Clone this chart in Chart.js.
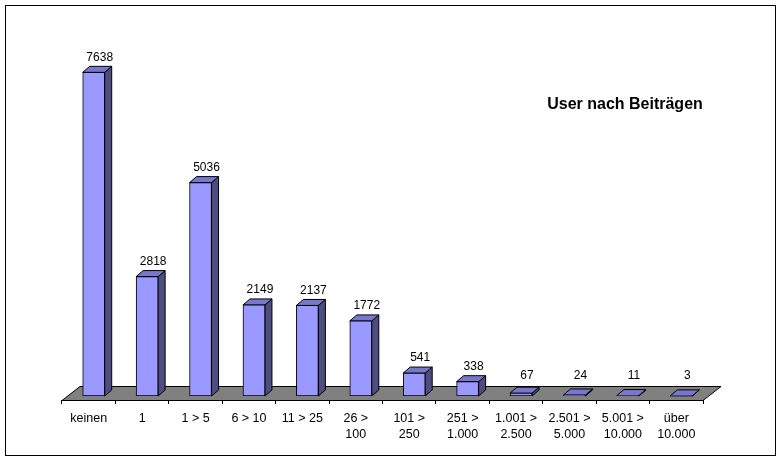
<!DOCTYPE html>
<html>
<head>
<meta charset="utf-8">
<script src="https://cdn.jsdelivr.net/npm/chart.js@4.4.0/dist/chart.umd.min.js"></script>
<style>
  html, body { margin: 0; padding: 0; background: #fff; }
  #wrap { width: 782px; height: 461px; position: relative; }
</style>
</head>
<body>
<div id="wrap"><canvas id="c" width="782" height="461"></canvas></div>
<script>
const categories = [["keinen"], ["1"], ["1 > 5"], ["6 > 10"], ["11 > 25"], ["26 >", "100"], ["101 >", "250"], ["251 >", "1.000"], ["1.001 >", "2.500"], ["2.501 >", "5.000"], ["5.001 >", "10.000"], ["über", "10.000"]];
const users = [7638, 2818, 5036, 2149, 2137, 1772, 541, 338, 67, 24, 11, 3];
const titleText = "User nach Beiträgen";
const yMax = 8000;

const FONT = "'Liberation Sans', Arial, sans-serif";
const SX = 5, SY = -4;       // bar front offset inside floor depth
const BDX = 7, BDY = -6;     // bar depth
const FDX = 18, FDY = -14;   // floor depth

const threeD = {
  id: 'threeD',
  beforeDatasetsDraw(chart) {
    const ctx = chart.ctx;
    const a = chart.chartArea;
    ctx.save();
    ctx.beginPath();
    ctx.moveTo(a.left, a.bottom + 0.5);
    ctx.lineTo(a.left + FDX, a.bottom + FDY + 0.5);
    ctx.lineTo(a.right + FDX, a.bottom + FDY + 0.5);
    ctx.lineTo(a.right, a.bottom + 0.5);
    ctx.closePath();
    ctx.fillStyle = '#808080';
    ctx.fill();
    ctx.strokeStyle = '#000';
    ctx.lineWidth = 1;
    ctx.stroke();
    const meta = chart.getDatasetMeta(0);
    ctx.translate(SX, SY);
    meta.data.forEach(el => {
      const p = el.getProps(['x', 'y', 'base', 'width'], true);
      const l = p.x - p.width / 2, r = p.x + p.width / 2, t = p.y, b = p.base;
      ctx.beginPath();
      ctx.moveTo(r, t);
      ctx.lineTo(r + BDX, t + BDY);
      ctx.lineTo(r + BDX, b + BDY);
      ctx.lineTo(r, b);
      ctx.closePath();
      ctx.fillStyle = '#4d4d80';
      ctx.fill();
      ctx.stroke();
      ctx.beginPath();
      ctx.moveTo(l, t);
      ctx.lineTo(l + BDX, t + BDY);
      ctx.lineTo(r + BDX, t + BDY);
      ctx.lineTo(r, t);
      ctx.closePath();
      ctx.fillStyle = '#7777cc';
      ctx.fill();
      ctx.stroke();
    });
    ctx.restore();
  },
  beforeDatasetDraw(chart) {
    chart.ctx.save();
    chart.ctx.translate(SX, SY);
  },
  afterDatasetDraw(chart) {
    chart.ctx.restore();
  },
  afterDatasetsDraw(chart) {
    const ctx = chart.ctx;
    const a = chart.chartArea;
    const meta = chart.getDatasetMeta(0);
    ctx.save();
    ctx.fillStyle = '#000';
    ctx.font = '12px ' + FONT;
    ctx.textAlign = 'center';
    ctx.textBaseline = 'middle';
    meta.data.forEach((el, i) => {
      const p = el.getProps(['x', 'y'], true);
      const y = Math.min(p.y + SY - 15, a.bottom - 24);
      ctx.fillText(String(chart.data.datasets[0].data[i]), p.x + 11, y);
    });
    ctx.font = 'bold 16px ' + FONT;
    ctx.fillText(titleText, 625, 105);
    ctx.restore();
  },
  afterDraw(chart) {
    const ctx = chart.ctx;
    ctx.save();
    ctx.strokeStyle = '#000';
    ctx.lineWidth = 1;
    ctx.strokeRect(5.5, 5.5, 770, 450);
    ctx.restore();
  }
};

new Chart(document.getElementById('c'), {
  type: 'bar',
  data: {
    labels: categories,
    datasets: [{
      data: users,
      backgroundColor: '#9999ff',
      borderColor: '#000',
      borderWidth: 1,
      borderSkipped: false,
      barThickness: 22
    }]
  },
  options: {
    responsive: false,
    animation: false,
    devicePixelRatio: 1,
    layout: { padding: { left: 62, right: 79, top: 61, bottom: 0 } },
    plugins: { legend: { display: false }, title: { display: false }, tooltip: { enabled: false } },
    scales: {
      y: { display: false, min: 0, max: yMax },
      x: {
        afterFit(scale) { scale.height = 61; },
        border: { display: false },
        grid: { display: true, drawOnChartArea: false, drawTicks: true, tickLength: 4, color: '#000', offset: true },
        ticks: { color: '#000', font: { family: FONT, size: 12.5, lineHeight: 1.3 }, padding: 6, maxRotation: 0, autoSkip: false }
      }
    }
  },
  plugins: [threeD]
});
</script>
</body>
</html>
